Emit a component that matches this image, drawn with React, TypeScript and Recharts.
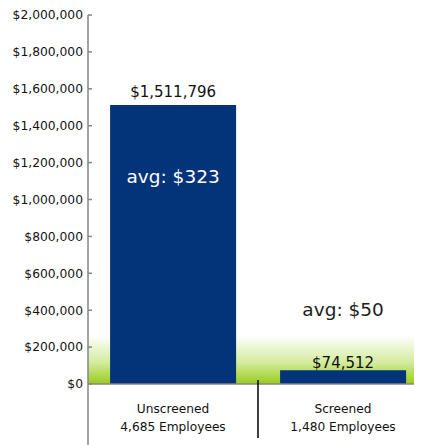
import React from "react";
import { BarChart, Bar, XAxis, YAxis, ReferenceArea, LabelList } from "recharts";

const categories = ["Unscreened", "Screened"];
const employeeLabels = ["4,685 Employees", "1,480 Employees"];
const totals = [1511796, 74512];
const averages = [323, 50];
const yTicks = [0, 200000, 400000, 600000, 800000, 1000000, 1200000, 1400000, 1600000, 1800000, 2000000];
const highlightTop = 265000;

const data = categories.map((name, i) => ({
  name,
  sub: employeeLabels[i],
  total: totals[i],
  avg: averages[i],
}));

const FONT = "'DejaVu Sans', Verdana, sans-serif";
const BAR_COLOR = "#03347a";
const AXIS_COLOR = "#868686";

// label placement styles (relative to bar top)
const totalLabelGap = [8, 2];
const avgLabelShift = [78, -54];
const avgLabelColor = ["#ffffff", "#222222"];

const fmtMoney = (v: number) => "$" + v.toLocaleString("en-US");

const YTick = (props: any) => {
  const { x, y, payload } = props;
  const axisX = x + 8;
  return (
    <g>
      <line x1={axisX} x2={axisX + 4} y1={y} y2={y} stroke={AXIS_COLOR} strokeWidth={1.5} />
      <text x={axisX - 5} y={y} dy="0.355em" textAnchor="end" fontFamily={FONT} fontSize={12.3} fill="#111">
        {fmtMoney(payload.value)}
      </text>
    </g>
  );
};

const XTick = (props: any) => {
  const { x, y, payload, index } = props;
  const half = payload && payload.offset ? payload.offset : 85;
  const d = data[index] || data.find((e) => e.name === payload.value);
  return (
    <g>
      {index === 0 && (
        <line x1={x - half} x2={x - half} y1={y} y2={y + 61} stroke={AXIS_COLOR} strokeWidth={1.5} />
      )}
      {index < data.length - 1 && (
        <line x1={x + half} x2={x + half} y1={y - 4} y2={y + 54} stroke="#000" strokeWidth={1.5} />
      )}
      <text x={x} y={y + 25} dy="0.355em" textAnchor="middle" fontFamily={FONT} fontSize={12.2} fill="#111">
        {payload.value}
      </text>
      <text x={x} y={y + 43} dy="0.355em" textAnchor="middle" fontFamily={FONT} fontSize={12.2} fill="#111">
        {d ? d.sub : ""}
      </text>
    </g>
  );
};

const TotalLabel = (props: any) => {
  const { x, y, width, value, index } = props;
  return (
    <text x={x + width / 2} y={y - totalLabelGap[index]} textAnchor="middle" fontFamily={FONT} fontSize={15} fill="#111">
      {fmtMoney(value)}
    </text>
  );
};

const AvgLabel = (props: any) => {
  const { x, y, width, value, index } = props;
  return (
    <text x={x + width / 2} y={y + avgLabelShift[index]} textAnchor="middle" fontFamily={FONT} fontSize={18.5} fill={avgLabelColor[index]}>
      {"avg: $" + value}
    </text>
  );
};

export default function App() {
  return (
    <div style={{ width: 414, height: 437, overflow: "hidden" }}>
      <BarChart
        width={430}
        height={437}
        data={data}
        margin={{ top: 7, right: 10, bottom: 0, left: 0 }}
        barCategoryGap="13%"
      >
        <defs>
          <linearGradient id="greenBand" x1="0" y1="0" x2="0" y2="1">
            <stop offset="0%" stopColor="#ffffff" />
            <stop offset="55%" stopColor="#d4eca0" />
            <stop offset="100%" stopColor="#99cc1a" />
          </linearGradient>
        </defs>
        <ReferenceArea y1={0} y2={highlightTop} fill="url(#greenBand)" fillOpacity={1} stroke="none" ifOverflow="visible" />
        <XAxis
          dataKey="name"
          height={61}
          tickLine={false}
          tickSize={0}
          tickMargin={0}
          axisLine={{ stroke: AXIS_COLOR, strokeWidth: 1.5 }}
          tick={<XTick />}
          interval={0}
        />
        <YAxis
          width={80}
          domain={[0, 2000000]}
          ticks={yTicks}
          tickLine={false}
          tickSize={0}
          tickMargin={8}
          axisLine={{ stroke: AXIS_COLOR, strokeWidth: 1.5 }}
          tick={<YTick />}
          interval={0}
        />
        <Bar dataKey="total" fill={BAR_COLOR} isAnimationActive={false}>
          <LabelList dataKey="total" content={<TotalLabel />} />
          <LabelList dataKey="avg" content={<AvgLabel />} />
        </Bar>
      </BarChart>
    </div>
  );
}
